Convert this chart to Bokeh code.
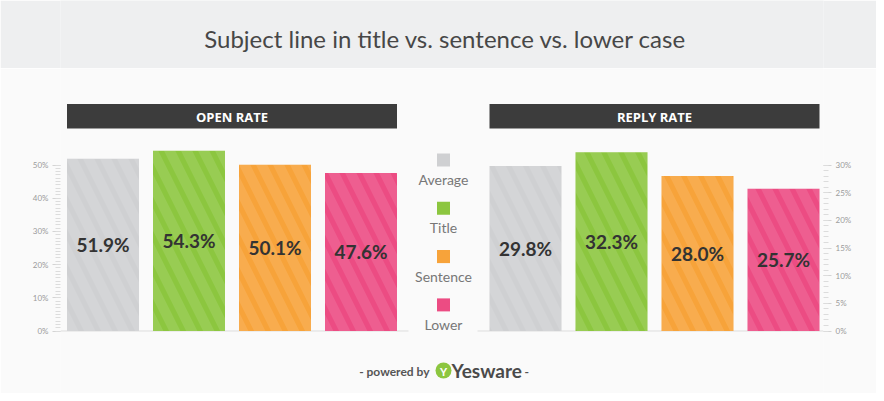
from bokeh.plotting import figure
from bokeh.layouts import column
from bokeh.models import Range1d, LinearAxis, FixedTicker, PrintfTickFormatter
from bokeh.core.properties import value
from bokeh.embed import file_html
from bokeh.resources import INLINE

# ---- data ----
title_text = "Subject line in title vs. sentence vs. lower case"
categories = ["Average", "Title", "Sentence", "Lower"]
open_rate = [51.9, 54.3, 50.1, 47.6]
reply_rate = [29.8, 32.3, 28.0, 25.7]
colors = ["#cfd0d2", "#8cc63f", "#f7a33a", "#ec4c83"]
panel_titles = ["OPEN RATE", "REPLY RATE"]
open_ticks = [0, 10, 20, 30, 40, 50]
reply_ticks = [0, 5, 10, 15, 20, 25, 30]
open_minor = list(range(0, 51))
reply_minor = list(range(0, 31))

FONT = "Lato"
BG = "#fafafa"

# ---- header ----
W = 876
HDR_H = 68
hdr = figure(width=W, height=HDR_H, output_backend="svg", toolbar_location=None,
             x_range=Range1d(0, W), y_range=Range1d(HDR_H, 0),
             min_border=0, outline_line_color=None)
hdr.axis.visible = False
hdr.grid.visible = False
hdr.background_fill_color = "#eeeff0"
hdr.border_fill_color = "#eeeff0"
hdr.text(x=[442], y=[38], text=[title_text], text_align="center",
         text_baseline="middle", text_font=value(FONT), text_font_size="24px",
         text_color="#474747")

# ---- main ----
top_px, bot_px = HDR_H, 393
zero_px = 330.5
o_per = 166.0 / 50.0
r_per = 166.0 / 30.0

p = figure(width=W, height=bot_px - top_px, output_backend="svg", toolbar_location=None,
           x_range=Range1d(60, 823),
           y_range=Range1d(-(bot_px - zero_px) / o_per, (zero_px - top_px) / o_per),
           min_border_left=60, min_border_right=W - 823, min_border_top=0, min_border_bottom=0,
           outline_line_color=None)
p.extra_y_ranges = {
    "reply": Range1d(-(bot_px - zero_px) / r_per, (zero_px - top_px) / r_per),
    "px": Range1d(bot_px, top_px),
}
p.axis.visible = False
p.grid.visible = False
p.background_fill_color = BG
p.border_fill_color = BG


def style_axis(ax, ticks, minor, bnds):
    ax.ticker = FixedTicker(ticks=ticks, minor_ticks=minor)
    ax.formatter = PrintfTickFormatter(format="%d%%")
    ax.bounds = bnds
    ax.axis_line_color = None
    ax.major_tick_in = 0
    ax.major_tick_out = 8
    ax.minor_tick_in = 0
    ax.minor_tick_out = 5
    ax.major_tick_line_color = "#d4d4d4"
    ax.minor_tick_line_color = "#dcdcdc"
    ax.major_label_text_font = FONT
    ax.major_label_text_font_size = "8px"
    ax.major_label_text_color = "#9a9a9a"
    ax.major_label_standoff = 4


lax = LinearAxis()
style_axis(lax, open_ticks, open_minor, (0, 50))
p.add_layout(lax, "left")
rax = LinearAxis(y_range_name="reply")
style_axis(rax, reply_ticks, reply_minor, (0, 30))
p.add_layout(rax, "right")

# baselines
p.segment(x0=[60, 477], y0=[zero_px, zero_px], x1=[408, 823], y1=[zero_px, zero_px],
          y_range_name="px", line_color="#dddddd", line_width=1)

# bars
step = 86
open_x = [102.5 + step * i for i in range(len(categories))]
reply_x = [525 + step * i for i in range(len(categories))]
bar_w = 72

bar_style = dict(width=bar_w, bottom=0, fill_color=colors, line_color=None,
                 hatch_pattern="left_diagonal_line", hatch_color="white",
                 hatch_alpha=0.1, hatch_scale=34, hatch_weight=10)
p.vbar(x=open_x, top=open_rate, **bar_style)
p.vbar(x=reply_x, top=reply_rate, y_range_name="reply", **bar_style)

lbl = dict(text_align="center", text_baseline="middle", text_font=value(FONT),
           text_font_style="bold", text_font_size="19px", text_color="#333333")
p.text(x=open_x, y=[v / 2 for v in open_rate], text=[f"{v:.1f}%" for v in open_rate], **lbl)
p.text(x=reply_x, y=[v / 2 for v in reply_rate], text=[f"{v:.1f}%" for v in reply_rate],
       y_range_name="reply", **lbl)

# panel headers
hx_left = [open_x[0] - bar_w / 2, reply_x[0] - bar_w / 2]
hx_right = [open_x[-1] + bar_w / 2, reply_x[-1] + bar_w / 2]
p.quad(left=hx_left, right=hx_right, top=[103.5, 103.5], bottom=[128, 128],
       y_range_name="px", fill_color="#3c3c3c", line_color=None)
p.text(x=[(a + b) / 2 for a, b in zip(hx_left, hx_right)], y=[116.5, 116.5], text=panel_titles,
       y_range_name="px", text_align="center", text_baseline="middle",
       text_font=value("Open Sans"), text_font_style="bold", text_font_size="13px",
       text_color="white")

# legend
leg_x = 443
leg_sq_y = [159.5 + 48.3 * i for i in range(len(categories))]
p.scatter(x=[leg_x] * len(categories), y=leg_sq_y, marker="square", size=13,
          fill_color=colors, line_color=None, y_range_name="px")
p.text(x=[leg_x] * len(categories), y=[y + 19.5 for y in leg_sq_y], text=categories,
       y_range_name="px", text_align="center", text_baseline="middle",
       text_font=value(FONT), text_font_size="14px", text_color="#777777")

# footer
p.text(x=[429], y=[371], text=["- powered by"], y_range_name="px", text_align="right",
       text_baseline="middle", text_font=value(FONT), text_font_style="bold",
       text_font_size="12px", text_color="#555555")
p.scatter(x=[443], y=[370], marker="circle", size=16, fill_color="#8cc63f",
          line_color=None, y_range_name="px")
p.text(x=[443], y=[370.5], text=["Y"], y_range_name="px", text_align="center",
       text_baseline="middle", text_font=value(FONT), text_font_style="bold",
       text_font_size="11px", text_color="white")
p.text(x=[451], y=[370], text=["Yesware"], y_range_name="px", text_align="left",
       text_baseline="middle", text_font=value(FONT), text_font_style="bold",
       text_font_size="19px", text_color="#4a4a4a")
p.text(x=[524], y=[371], text=["-"], y_range_name="px", text_align="left",
       text_baseline="middle", text_font=value(FONT), text_font_style="bold",
       text_font_size="12px", text_color="#555555")

layout = column(hdr, p, spacing=0)
open("out.html", "w").write(file_html(layout, INLINE))
